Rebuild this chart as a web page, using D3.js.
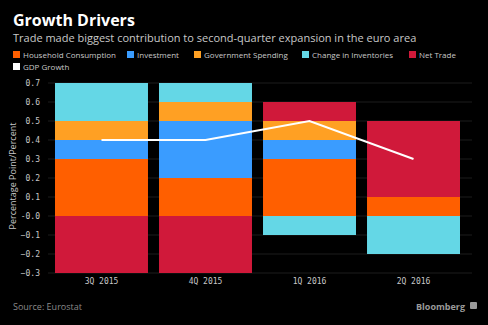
<!DOCTYPE html>
<html><head><meta charset="utf-8">
<script src="https://cdn.jsdelivr.net/npm/d3@7"></script>
<style>
html,body{margin:0;padding:0;background:#000;}
svg{display:block;font-family:"Open Sans","DejaVu Sans",sans-serif;}
</style></head>
<body>
<script>
const quarters = ["3Q 2015","4Q 2015","1Q 2016","2Q 2016"];
const seriesNames = ["Household Consumption","Investment","Government Spending","Change in Inventories","Net Trade"];
const household = [0.3, 0.2, 0.3, 0.1];
const investment = [0.1, 0.3, 0.1, 0.0];
const government = [0.1, 0.1, 0.1, 0.0];
const inventories = [0.2, 0.1, -0.1, -0.2];
const netTrade = [-0.3, -0.3, 0.1, 0.4];
const gdpGrowth = [0.4, 0.4, 0.5, 0.3];
const yTicks = [0.7,0.6,0.5,0.4,0.3,0.2,0.1,0,-0.1,-0.2,-0.3];
const colors = ["#ff5f00","#3a9cff","#ffa023","#64d7e6","#d0193a"];

const W = 488, H = 325;
const svg = d3.select("body").append("svg").attr("width",W).attr("height",H);
svg.append("rect").attr("width",W).attr("height",H).attr("fill","#000");

const rows = quarters.map((q,i)=>({q, s0:household[i], s1:investment[i], s2:government[i], s3:inventories[i], s4:netTrade[i]}));
const keys = ["s0","s1","s2","s3","s4"];
const stack = d3.stack().keys(keys).offset(d3.stackOffsetDiverging)(rows);

const x = d3.scaleBand().domain(quarters).range([55,460]).paddingInner(0.106).paddingOuter(0);
const y = d3.scaleLinear().domain([-0.3,0.7]).range([273,83]);

// grid
svg.append("g").selectAll("line").data(yTicks).join("line")
  .attr("x1",48).attr("x2",472).attr("y1",d=>y(d)).attr("y2",d=>y(d))
  .attr("stroke","#1c1c1c").attr("stroke-width",1);

// bars
svg.append("g").selectAll("g").data(stack).join("g")
  .attr("fill",(d,i)=>colors[i])
  .selectAll("rect").data(d=>d).join("rect")
  .attr("x",d=>x(d.data.q)).attr("width",x.bandwidth())
  .attr("y",d=>y(Math.max(d[0],d[1]))).attr("height",d=>Math.abs(y(d[0])-y(d[1])));

// GDP line
const line = d3.line().x((d,i)=>x(quarters[i])+x.bandwidth()/2).y(d=>y(d));
svg.append("path").datum(gdpGrowth).attr("d",line).attr("fill","none")
  .attr("stroke","#fff").attr("stroke-width",2);

// y axis
const yAxis = d3.axisLeft(y).tickValues(yTicks).tickSize(0).tickPadding(0)
  .tickFormat(d=> (d===0 ? "-0.0" : d3.format(".1f")(d)));
const ya = svg.append("g").attr("transform","translate(40,0)").call(yAxis);
ya.select(".domain").remove();
ya.selectAll("text").attr("fill","#c8c8c8").attr("font-size","8px").attr("font-family","'DejaVu Sans Mono',monospace");

// x axis
const xAxis = d3.axisBottom(x).tickSize(0).tickPadding(0);
const xa = svg.append("g").attr("transform","translate(0,278)").call(xAxis);
xa.select(".domain").remove();
xa.selectAll("text").attr("fill","#c8c8c8").attr("font-size","8px").attr("font-family","'DejaVu Sans Mono',monospace");

// y title
svg.append("text").attr("transform","translate(16,176) rotate(-90)").attr("text-anchor","middle")
  .attr("fill","#c8c8c8").attr("font-size","9px").text("Percentage Point/Percent");

// title & subtitle
svg.append("text").attr("x",13).attr("y",26).attr("fill","#fff").attr("font-size","16px")
  .attr("font-weight","bold").text("Growth Drivers");
svg.append("text").attr("x",13).attr("y",42).attr("fill","#c8c8c8").attr("font-size","11px")
  .text("Trade made biggest contribution to second-quarter expansion in the euro area");

// legend
const legendItems = seriesNames.map((n,i)=>({n,c:colors[i]})).concat([{n:"GDP Growth",c:"#fff"}]);
const legX = [13,127,194,302,409,13];
const legY = [55,55,55,55,55,67];
const lg = svg.append("g").selectAll("g").data(legendItems).join("g")
  .attr("transform",(d,i)=>`translate(${legX[i]},${legY[i]})`);
lg.append("rect").attr("x",0).attr("y",-4).attr("width",7).attr("height",7).attr("fill",d=>d.c);
lg.append("text").attr("x",10).attr("y",3).attr("fill","#c8c8c8").attr("font-size","8px").text(d=>d.n);

// footer
svg.append("text").attr("x",13).attr("y",310).attr("fill","#8a8a8a").attr("font-size","9px").text("Source: Eurostat");
svg.append("text").attr("x",465).attr("y",310).attr("text-anchor","end").attr("fill","#9a9a9a")
  .attr("font-size","9px").attr("font-weight","bold").text("Bloomberg");
svg.append("rect").attr("x",470).attr("y",302).attr("width",7).attr("height",7).attr("rx",1).attr("fill","#9a9a9a");
</script>
</body></html>
